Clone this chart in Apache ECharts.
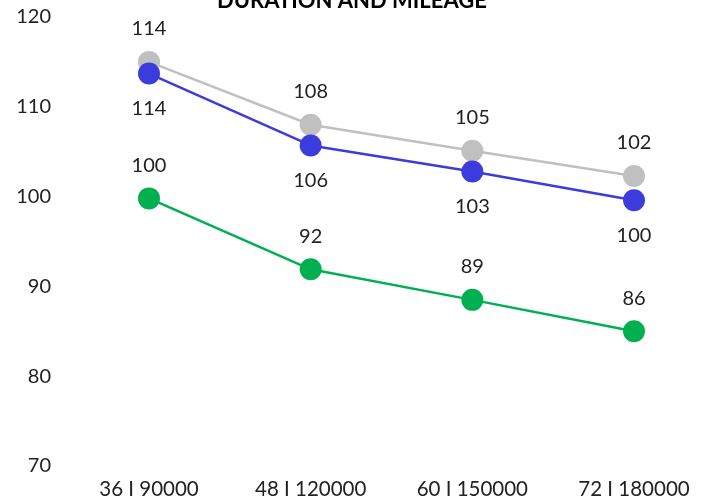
<!DOCTYPE html>
<html><head><meta charset="utf-8">
<script src="https://cdn.jsdelivr.net/npm/echarts@6/dist/echarts.min.js"></script>
<style>html,body{margin:0;padding:0;background:#fff}#c{width:710px;height:500px}</style>
</head><body><div id="c"></div>
<script>
var categories = ['36 I 90000', '48 I 120000', '60 I 150000', '72 I 180000'];
var greyValues = [115.0, 108.0, 105.1, 102.3];
var blueValues = [113.7, 105.7, 102.8, 99.6];
var greenValues = [99.8, 91.9, 88.5, 85.0];
var greyLabels = [114, 108, 105, 102];
var blueLabels = [114, 106, 103, 100];
var greenLabels = [100, 92, 89, 86];
var yTicks = [70, 80, 90, 100, 110, 120];

var FONT = 'Lato';
var TXT = '#222222';
function mk(name, vals, labs, color, pos, dist) {
  return {
    name: name, type: 'line', data: vals,
    symbol: 'circle', symbolSize: 22,
    lineStyle: { color: color, width: 2.5 },
    itemStyle: { color: color },
    label: {
      show: true, position: pos, distance: dist,
      fontFamily: FONT, fontSize: 20, color: TXT,
      formatter: function (p) { return labs[p.dataIndex]; }
    },
    emphasis: { disabled: true }
  };
}
var chart = echarts.init(document.getElementById('c'), null, { renderer: 'canvas' });
chart.setOption({
  animation: false,
  backgroundColor: '#fff',
  title: {
    text: 'DURATION AND MILEAGE', left: 212, top: -15,
    textStyle: { fontFamily: FONT, fontSize: 22, fontWeight: 'bold', color: '#000' }
  },
  grid: { left: 149, right: 76, top: 17, bottom: 34 },
  xAxis: {
    type: 'category', data: categories, boundaryGap: false,
    axisLine: { show: false }, axisTick: { show: false }, splitLine: { show: false },
    axisLabel: { fontFamily: FONT, fontSize: 20.5, color: TXT, margin: 13 }
  },
  yAxis: {
    type: 'value', min: yTicks[0], max: yTicks[yTicks.length - 1], interval: 10,
    axisLine: { show: false }, axisTick: { show: false }, splitLine: { show: false },
    axisLabel: { fontFamily: FONT, fontSize: 20, color: TXT, margin: 98 }
  },
  series: [
    mk('grey', greyValues, greyLabels, '#c0c0c0', 'top', 12),
    mk('blue', blueValues, blueLabels, '#3c3cdc', 'bottom', 14),
    mk('green', greenValues, greenLabels, '#00b050', 'top', 12)
  ]
});
</script></body></html>
